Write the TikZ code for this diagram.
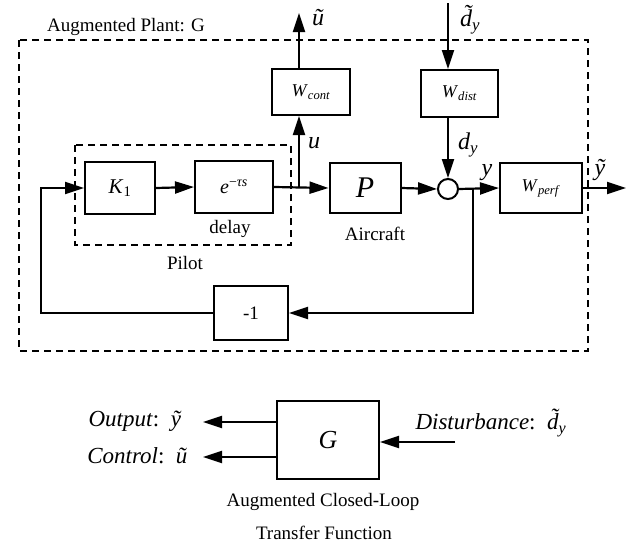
\documentclass[tikz,border=0pt]{standalone}
\usepackage{fontspec}
\setmainfont{Liberation Serif}
\usetikzlibrary{arrows.meta,calc}
\begin{document}
\begin{tikzpicture}[x=1pt,y=-1pt,
  blk/.style={draw,line width=2pt,inner sep=0pt},
  arr/.style={line width=2.2pt,-{Triangle[length=19pt,width=12pt]}},
  dsh/.style={line width=2pt,dash pattern=on 7pt off 5pt},
  lbl/.style={font=\fontsize{19}{22}\selectfont},
  mlbl/.style={font=\fontsize{24}{26}\selectfont\itshape,inner sep=0pt},
  slbl/.style={font=\fontsize{23}{25}\selectfont},
  wfont/.style={font=\fontsize{18}{20}\selectfont}]
\useasboundingbox (0,0) rectangle (633,544);
% dashed frames
\draw[dsh] (19,40) rectangle (588,351);
\draw[dsh] (75,145) rectangle (291,245);
\node[lbl] (title) at (126,27) {Augmented Plant: G};
% blocks
\node[blk,minimum width=70pt,minimum height=52pt] (K1) at (120,188) {\fontsize{21}{23}\selectfont\textit{K}\textsubscript{1}};
\node[blk,minimum width=78pt,minimum height=52pt] (E) at (234,187) {\fontsize{20}{22}\selectfont\textit{e}\textsuperscript{−\textit{τs}}};
\node[blk,minimum width=71pt,minimum height=50pt] (P) at (365,188) {\fontsize{30}{32}\selectfont\textit{P}};
\node[blk,wfont,minimum width=78pt,minimum height=46pt] (Wc) at (311,92) {\textit{W}\textsubscript{\textit{cont}}};
\node[blk,wfont,minimum width=77pt,minimum height=47pt] (Wd) at (459.5,93.5) {\textit{W}\textsubscript{\textit{dist}}};
\node[blk,wfont,minimum width=82pt,minimum height=50pt] (Wp) at (541,188) {\textit{W}\textsubscript{\textit{perf}}};
\node[blk,minimum width=74pt,minimum height=54pt,font=\fontsize{19}{22}\selectfont] (N) at (251,313) {-1};
\node[draw,circle,line width=2pt,minimum size=20pt,inner sep=0pt] (S) at (448,189) {};
% coordinates
\coordinate (ju) at (299,188);
\coordinate (utop) at (299,13);
\coordinate (dtop) at (448,3);
\coordinate (jy) at (473,188);
\coordinate (yout) at (626,188);
\coordinate (fbr) at (473,313);
\coordinate (fbl) at (41,313);
% connectors
\draw[arr] (N.west) -- (fbl) |- (K1.west);
\draw[arr] (K1.east) -- (E.west);
\draw[arr] (E.east) -- (P.west);
\draw[arr] (ju) -- (ju |- Wc.south);
\draw[arr] (ju |- Wc.north) -- (utop);
\draw[arr] (dtop) -- (dtop |- Wd.north);
\draw[arr] (dtop |- Wd.south) -- (S.north);
\draw[arr] (P.east) -- (S.west);
\draw[arr] (S.east) -- (Wp.west);
\draw[arr] (jy) -- (fbr) -- (N.east);
\draw[arr] (Wp.east) -- (yout);
% signal labels
\node[mlbl] (lu) at (314,143) {u};
\node[mlbl] (lut) at (318,18) {ũ};
\node[mlbl] (ldy) at (468,145) {d\textsubscript{y}};
\node[mlbl] (ldyt) at (470,20) {d\char"0303\textsubscript{y}};
\node[mlbl] (ly) at (487,173) {y};
\node[mlbl] (lyt) at (600,170) {ỹ};
\node[lbl] (delay) at (230,229) {delay};
\node[lbl] (air) at (375,234) {Aircraft};
\node[lbl] (pilot) at (185,263) {Pilot};
% lower diagram
\node[blk,minimum width=102pt,minimum height=78pt] (G) at (328,440) {\fontsize{26}{28}\selectfont\textit{G}};
\coordinate (o1) at (203,422);
\coordinate (o2) at (203,457);
\coordinate (din) at (455,442);
\draw[arr] (G.west |- o1) -- (o1);
\draw[arr] (G.west |- o2) -- (o2);
\draw[arr] (din) -- (G.east |- din);
\node[slbl,anchor=east] (out) at (185,421) {\textit{Output}:\hspace{0.5em}\textit{ỹ}};
\node[slbl,anchor=east] (ctl) at (191,456) {\textit{Control}:\hspace{0.5em}\textit{ũ}};
\node[slbl,anchor=west] (dis) at (412,423) {\textit{Disturbance}:\hspace{0.5em}\textit{d\char"0303\textsubscript{y}}};
\node[lbl] (cap1) at (323,502) {Augmented Closed-Loop};
\node[lbl] (cap2) at (324,533) {Transfer Function};
\end{tikzpicture}
\end{document}
